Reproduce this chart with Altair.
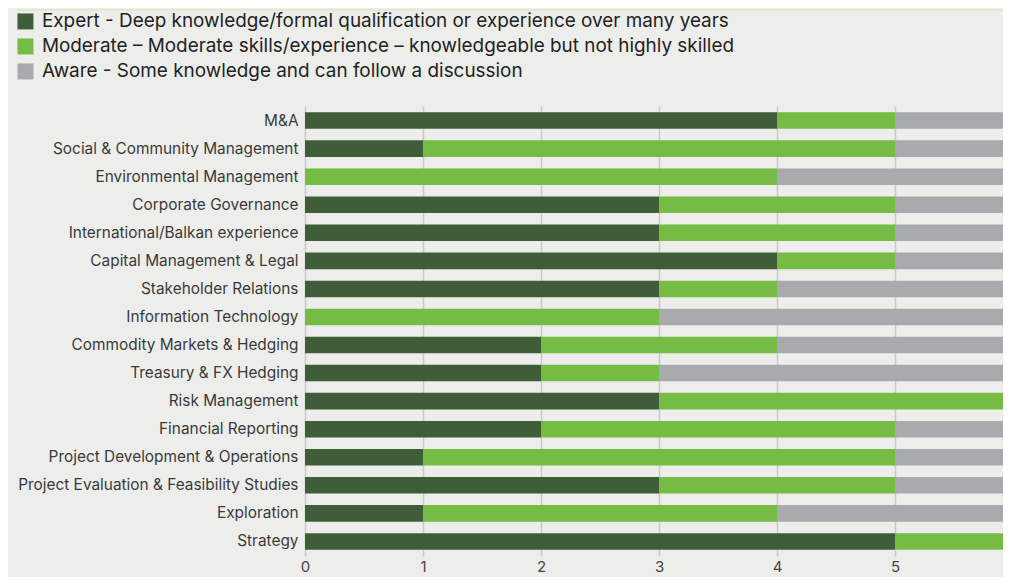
import altair as alt
import pandas as pd

skills = [
    "M&A",
    "Social & Community Management",
    "Environmental Management",
    "Corporate Governance",
    "International/Balkan experience",
    "Capital Management & Legal",
    "Stakeholder Relations",
    "Information Technology",
    "Commodity Markets & Hedging",
    "Treasury & FX Hedging",
    "Risk Management",
    "Financial Reporting",
    "Project Development & Operations",
    "Project Evaluation & Feasibility Studies",
    "Exploration",
    "Strategy",
]
expert = [4, 1, 0, 3, 3, 4, 3, 0, 2, 2, 3, 2, 1, 3, 1, 5]
moderate = [1, 4, 4, 2, 2, 1, 1, 3, 2, 1, 3, 3, 4, 2, 3, 1]
aware = [1, 1, 2, 1, 1, 1, 2, 3, 2, 3, 0, 1, 1, 1, 2, 0]

levels = [
    "Expert - Deep knowledge/formal qualification or experience over many years",
    "Moderate \u2013 Moderate skills/experience \u2013 knowledgeable but not highly skilled",
    "Aware - Some knowledge and can follow a discussion",
]
colors = ["#3f5d39", "#76bb44", "#a9aaad"]
x_ticks = [0, 1, 2, 3, 4, 5, 6]

rows = []
for i, s in enumerate(skills):
    for j, vals in enumerate([expert, moderate, aware]):
        rows.append({"skill": s, "level": levels[j], "value": vals[i], "order": j})
df = pd.DataFrame(rows)

FONT = "Inter"

bars = alt.Chart(df).mark_bar(clip=True).encode(
    y=alt.Y(
        "skill:N",
        sort=skills,
        title=None,
        scale=alt.Scale(paddingInner=0.41, paddingOuter=0.225),
        axis=alt.Axis(
            ticks=False,
            domain=False,
            labelPadding=7,
            labelFontSize=15.4,
            labelColor="#3a3a3a",
            labelFont=FONT,
            labelLimit=0,
        ),
    ),
    x=alt.X(
        "value:Q",
        stack="zero",
        title=None,
        scale=alt.Scale(domain=[0, 5.915], nice=False, zero=True),
        axis=alt.Axis(
            values=x_ticks,
            grid=True,
            gridColor="#c9c9c9",
            gridWidth=1.5,
            ticks=False,
            domain=False,
            labelPadding=3,
            labelFontSize=15,
            labelColor="#444444",
            labelFont=FONT,
            labelFlush=False,
        ),
    ),
    color=alt.Color(
        "level:N",
        sort=levels,
        scale=alt.Scale(domain=levels, range=colors),
        legend=alt.Legend(
            orient="none",
            legendX=-289,
            legendY=-94,
            title=None,
            symbolType="square",
            symbolSize=256,
            symbolStrokeWidth=0,
            labelFontSize=18.9,
            labelColor="#222222",
            labelFont=FONT,
            labelLimit=0,
            labelOffset=7,
            rowPadding=5,
            padding=0,
        ),
    ),
    order=alt.Order("order:Q"),
)

top_line = alt.Chart(pd.DataFrame({"a": [0]})).mark_rule(
    color="#dde9c6", strokeWidth=1.5
).encode(x=alt.value(-288), x2=alt.value(698), y=alt.value(-96))

chart = (
    alt.layer(top_line, bars)
    .properties(
        width=698,
        height=450,
        autosize=alt.AutoSizeParams(type="none"),
        padding={"left": 297, "top": 98, "right": 0, "bottom": 21},
        background="#edeeeb",
    )
    .configure_view(stroke=None)
)

chart.save("out.html", embed_options={"renderer": "svg", "actions": False})
